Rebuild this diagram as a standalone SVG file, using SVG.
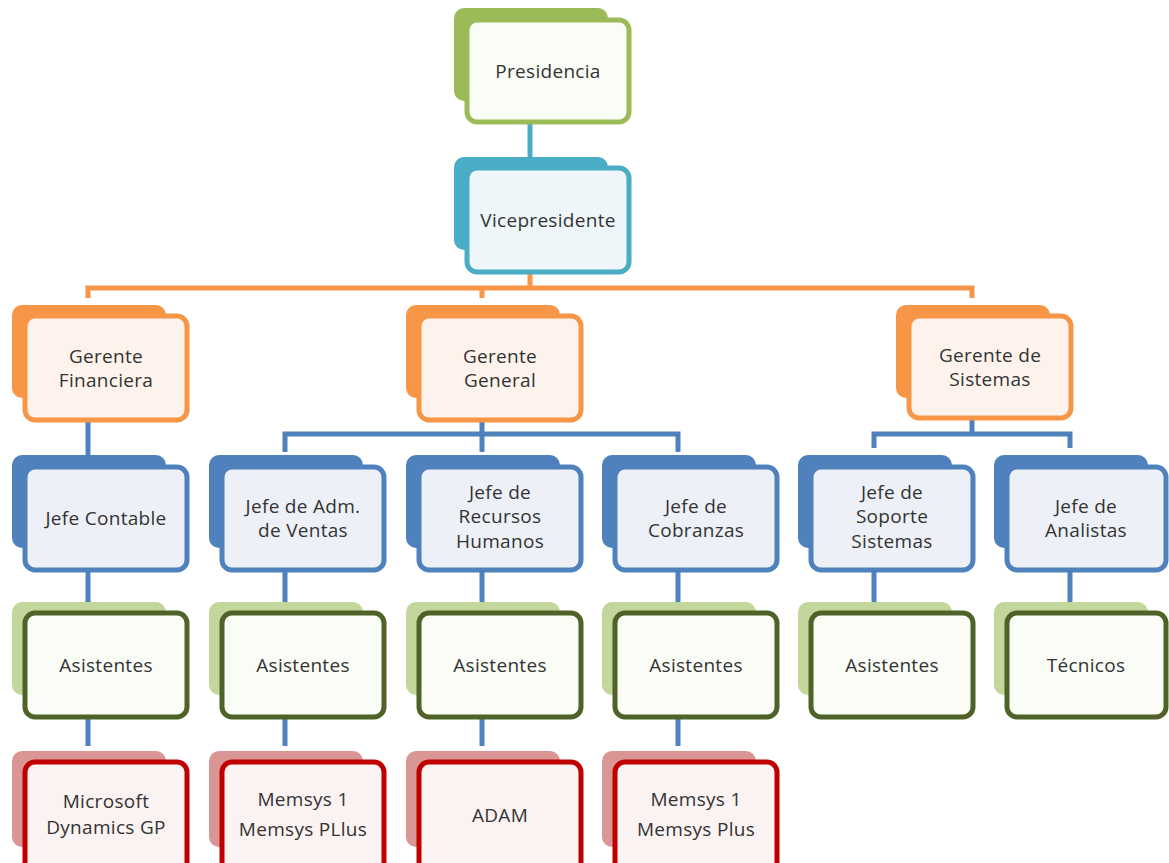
<svg xmlns="http://www.w3.org/2000/svg" width="1169" height="863" viewBox="0 0 1169 863">
<style>
text{font-family:"Open Sans","Liberation Sans",sans-serif;font-size:19px;fill:#333;text-anchor:middle;letter-spacing:0.3px}
.f{stroke-width:5}
.g1b{fill:#9BBB59}.g1f{fill:#FAFCF6;stroke:#9BBB59}
.tb{fill:#4BACC6}.tf{fill:#EEF6F9;stroke:#4BACC6}
.ob{fill:#F79646}.of{fill:#FDF3EC;stroke:#F79646}
.bb{fill:#4F81BD}.bf{fill:#EDF1F7;stroke:#4F81BD}
.gb{fill:#C3D69B}.gf{fill:#FAFCF6;stroke:#4F6228}
.rb{fill:#D99694}.rf{fill:#FBF2F2;stroke:#C00000}
.c{fill:none;stroke-width:5}
</style>
<rect width="1169" height="863" fill="#fff"/>
<g id="connectors">
<path class="c" stroke="#4BACC6" d="M530 122V158"/>
<path class="c" stroke="#F79646" d="M530 272V288M88 298V288H972V298M482 288V298"/>
<path class="c" stroke="#4F81BD" d="M88 420V456M482 420V434M285 452V434H678V452M482 434V452M972 418V434M874 448V434H1070V448"/>
<path class="c" stroke="#4F81BD" d="M88 570V602M285 570V602M482 570V602M678 570V602M874 570V602M1070 570V602"/>
<path class="c" stroke="#4F81BD" d="M88 717V746M285 717V746M482 717V746M678 717V746"/>
</g>
<g id="presidencia">
<rect class="g1b" x="454" y="8" width="154" height="93" rx="10"/>
<rect class="g1f f" x="467" y="20" width="162" height="102" rx="10"/>
<text x="548" y="78">Presidencia</text>
</g>
<g id="vicepresidente">
<rect class="tb" x="454" y="157" width="154" height="93" rx="10"/>
<rect class="tf f" x="467" y="168" width="162" height="104" rx="10"/>
<text x="548" y="227">Vicepresidente</text>
</g>
<g id="gerente-financiera">
<rect class="ob" x="12" y="305" width="154" height="93" rx="10"/>
<rect class="of f" x="25" y="316" width="162" height="104" rx="10"/>
<text x="106" y="363">Gerente</text><text x="106" y="387">Financiera</text>
</g>
<g id="gerente-general">
<rect class="ob" x="406" y="305" width="154" height="93" rx="10"/>
<rect class="of f" x="419" y="316" width="162" height="104" rx="10"/>
<text x="500" y="363">Gerente</text><text x="500" y="387">General</text>
</g>
<g id="gerente-sistemas">
<rect class="ob" x="896" y="305" width="154" height="93" rx="10"/>
<rect class="of f" x="909" y="316" width="162" height="102" rx="10"/>
<text x="990" y="362">Gerente de</text><text x="990" y="386">Sistemas</text>
</g>
<g id="jefe-contable">
<rect class="bb" x="12" y="455" width="154" height="93" rx="10"/>
<rect class="bf f" x="25" y="467" width="162" height="103" rx="10"/>
<text x="106" y="525">Jefe Contable</text>
</g>
<g id="jefe-ventas">
<rect class="bb" x="209" y="455" width="154" height="93" rx="10"/>
<rect class="bf f" x="222" y="467" width="162" height="103" rx="10"/>
<text x="303" y="513">Jefe de Adm.</text><text x="303" y="537">de Ventas</text>
</g>
<g id="jefe-rrhh">
<rect class="bb" x="406" y="455" width="154" height="93" rx="10"/>
<rect class="bf f" x="419" y="467" width="162" height="103" rx="10"/>
<text x="500" y="499">Jefe de</text><text x="500" y="523">Recursos</text><text x="500" y="548">Humanos</text>
</g>
<g id="jefe-cobranzas">
<rect class="bb" x="602" y="455" width="154" height="93" rx="10"/>
<rect class="bf f" x="615" y="467" width="162" height="103" rx="10"/>
<text x="696" y="513">Jefe de</text><text x="696" y="537">Cobranzas</text>
</g>
<g id="jefe-soporte">
<rect class="bb" x="798" y="455" width="154" height="93" rx="10"/>
<rect class="bf f" x="811" y="467" width="162" height="103" rx="10"/>
<text x="892" y="499">Jefe de</text><text x="892" y="523">Soporte</text><text x="892" y="548">Sistemas</text>
</g>
<g id="jefe-analistas">
<rect class="bb" x="994" y="455" width="154" height="93" rx="10"/>
<rect class="bf f" x="1007" y="467" width="159" height="103" rx="10"/>
<text x="1086" y="513">Jefe de</text><text x="1086" y="537">Analistas</text>
</g>
<g id="asistentes-1">
<rect class="gb" x="12" y="602" width="154" height="93" rx="10"/>
<rect class="gf f" x="25" y="613" width="162" height="104" rx="10"/>
<text x="106" y="672">Asistentes</text>
</g>
<g id="asistentes-2">
<rect class="gb" x="209" y="602" width="154" height="93" rx="10"/>
<rect class="gf f" x="222" y="613" width="162" height="104" rx="10"/>
<text x="303" y="672">Asistentes</text>
</g>
<g id="asistentes-3">
<rect class="gb" x="406" y="602" width="154" height="93" rx="10"/>
<rect class="gf f" x="419" y="613" width="162" height="104" rx="10"/>
<text x="500" y="672">Asistentes</text>
</g>
<g id="asistentes-4">
<rect class="gb" x="602" y="602" width="154" height="93" rx="10"/>
<rect class="gf f" x="615" y="613" width="162" height="104" rx="10"/>
<text x="696" y="672">Asistentes</text>
</g>
<g id="asistentes-5">
<rect class="gb" x="798" y="602" width="154" height="93" rx="10"/>
<rect class="gf f" x="811" y="613" width="162" height="104" rx="10"/>
<text x="892" y="672">Asistentes</text>
</g>
<g id="tecnicos">
<rect class="gb" x="994" y="602" width="154" height="93" rx="10"/>
<rect class="gf f" x="1007" y="613" width="159" height="104" rx="10"/>
<text x="1086" y="672">Técnicos</text>
</g>
<g id="microsoft-dynamics">
<rect class="rb" x="12" y="751" width="154" height="96" rx="10"/>
<rect class="rf f" x="25" y="762" width="162" height="112" rx="10"/>
<text x="106" y="808">Microsoft</text><text x="106" y="834">Dynamics GP</text>
</g>
<g id="memsys-1">
<rect class="rb" x="209" y="751" width="154" height="96" rx="10"/>
<rect class="rf f" x="222" y="762" width="162" height="112" rx="10"/>
<text x="303" y="806">Memsys 1</text><text x="303" y="836">Memsys PLlus</text>
</g>
<g id="adam">
<rect class="rb" x="406" y="751" width="154" height="96" rx="10"/>
<rect class="rf f" x="419" y="762" width="162" height="112" rx="10"/>
<text x="500" y="822">ADAM</text>
</g>
<g id="memsys-2">
<rect class="rb" x="602" y="751" width="154" height="96" rx="10"/>
<rect class="rf f" x="615" y="762" width="162" height="112" rx="10"/>
<text x="696" y="806">Memsys 1</text><text x="696" y="836">Memsys Plus</text>
</g>
</svg>
